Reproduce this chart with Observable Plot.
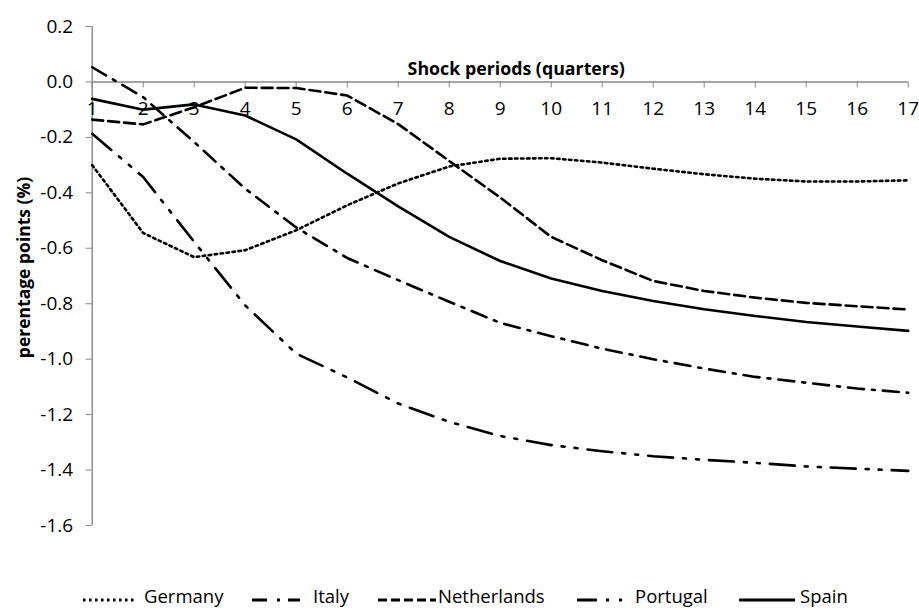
<!DOCTYPE html>
<html>
<head>
<meta charset="utf-8">
<script src="https://cdn.jsdelivr.net/npm/d3@7"></script>
<script src="https://cdn.jsdelivr.net/npm/@observablehq/plot@0.6"></script>
<style>
  html, body { margin: 0; padding: 0; background: #fff; }
  body { width: 919px; height: 610px; overflow: hidden; font-family: "Open Sans", sans-serif; }
  #chart svg { font-family: "Open Sans", sans-serif !important; color: #000 !important; }
  #legend { position: relative; height: 20px; font-size: 18.5px; color: #000; line-height: 20px; }
  .sample { position: absolute; top: 5px; display: block; }
  .label { position: absolute; top: -4px; white-space: nowrap; }
</style>
</head>
<body>
<div id="chart"></div>
<div id="legend"></div>
<script>
const periods = [1, 2, 3, 4, 5, 6, 7, 8, 9, 10, 11, 12, 13, 14, 15, 16, 17];
const countries = ["Germany", "Italy", "Netherlands", "Portugal", "Spain"];
const germany     = [-0.30, -0.545, -0.632, -0.607, -0.535, -0.445, -0.366, -0.305, -0.277, -0.275, -0.291, -0.313, -0.333, -0.349, -0.359, -0.359, -0.355];
const italy       = [0.053, -0.055, -0.217, -0.385, -0.525, -0.635, -0.715, -0.793, -0.869, -0.917, -0.962, -1.000, -1.034, -1.064, -1.085, -1.106, -1.121];
const netherlands = [-0.136, -0.153, -0.091, -0.021, -0.022, -0.049, -0.152, -0.285, -0.417, -0.559, -0.643, -0.718, -0.754, -0.778, -0.797, -0.809, -0.821];
const portugal    = [-0.187, -0.343, -0.577, -0.806, -0.980, -1.066, -1.160, -1.226, -1.277, -1.310, -1.332, -1.350, -1.363, -1.374, -1.387, -1.395, -1.403];
const spain       = [-0.061, -0.100, -0.081, -0.121, -0.207, -0.331, -0.449, -0.559, -0.646, -0.709, -0.754, -0.790, -0.820, -0.844, -0.866, -0.882, -0.898];
const yTicks = [0.2, 0.0, -0.2, -0.4, -0.6, -0.8, -1.0, -1.2, -1.4, -1.6];

const seriesValues = [germany, italy, netherlands, portugal, spain];
const dashes = ["2.5 3.5", "16 8 3 8", "11 5", "25 10 3 10 3 10", null];

const W = 919, H = 590;
const mL = 91.7, mR = 11.3, mT = 26, mB = 65;
const yDomain = [-1.6, 0.2];
const yPix = d3.scaleLinear(yDomain, [H - mB, mT]);
const axisShift = yPix(0) - (H - mB);
const grey = "#868686";
const tickFont = 19;

const data = countries.flatMap((c, i) => periods.map((p, j) => ({country: c, period: p, value: seriesValues[i][j]})));

const lineMarks = countries.map((c, i) =>
  Plot.line(data.filter(d => d.country === c), {
    x: "period", y: "value",
    stroke: "#000", strokeWidth: 2.6,
    strokeDasharray: dashes[i] || undefined
  })
);

const chart = Plot.plot({
  width: W, height: H,
  marginLeft: mL, marginRight: mR, marginTop: mT, marginBottom: mB,
  style: {fontSize: tickFont + "px", fontFamily: "'Open Sans', sans-serif"},
  x: {domain: [1, 17]},
  y: {domain: yDomain},
  marks: [
    Plot.ruleX([1], {stroke: grey, strokeWidth: 1.4}),
    Plot.axisY({ticks: yTicks, tickSize: 6, tickPadding: 13, stroke: grey, tickFormat: d => d.toFixed(1), label: null, fontSize: tickFont}),
    Plot.ruleY([0], {stroke: grey, strokeWidth: 1.4}),
    Plot.axisX({ticks: periods, anchor: "bottom", tickSize: 6, tickPadding: 14, stroke: grey, tickFormat: d => String(d), label: null, dy: axisShift, fontSize: tickFont}),
    Plot.text(["Shock periods (quarters)"], {frameAnchor: "top", text: d => d, dx: 16, dy: 36, fontWeight: "bold", fontSize: 17.8, fill: "#000"}),
    Plot.text(["perentage points (%)"], {frameAnchor: "left", textAnchor: "middle", text: d => d, rotate: -90, dx: -68, dy: -8.5, fontWeight: "bold", fontSize: 17.5, fill: "#000"}),
    ...lineMarks
  ]
});
document.getElementById("chart").appendChild(chart);

// Legend
const legendPos = [
  {sx: 83, sw: 54, tx: 144, dash: "2.5 3.5"},
  {sx: 252, sw: 48, tx: 313, dash: "15 10 3 8 15"},
  {sx: 378, sw: 58, tx: 438, dash: "9 4"},
  {sx: 577, sw: 50, tx: 635, dash: "20 9 3 10 3 20"},
  {sx: 739, sw: 56, tx: 800, dash: null}
];
const legend = d3.select("#legend");
countries.forEach((c, i) => {
  const p = legendPos[i];
  const svg = legend.append("svg").attr("class", "sample").style("left", p.sx + "px")
    .attr("width", p.sw).attr("height", 10);
  svg.append("line").attr("x1", 0).attr("x2", p.sw).attr("y1", 5).attr("y2", 5)
    .attr("stroke", "#000").attr("stroke-width", 3)
    .attr("stroke-dasharray", p.dash);
  legend.append("span").attr("class", "label").style("left", p.tx + "px").text(c);
});
</script>
</body>
</html>
